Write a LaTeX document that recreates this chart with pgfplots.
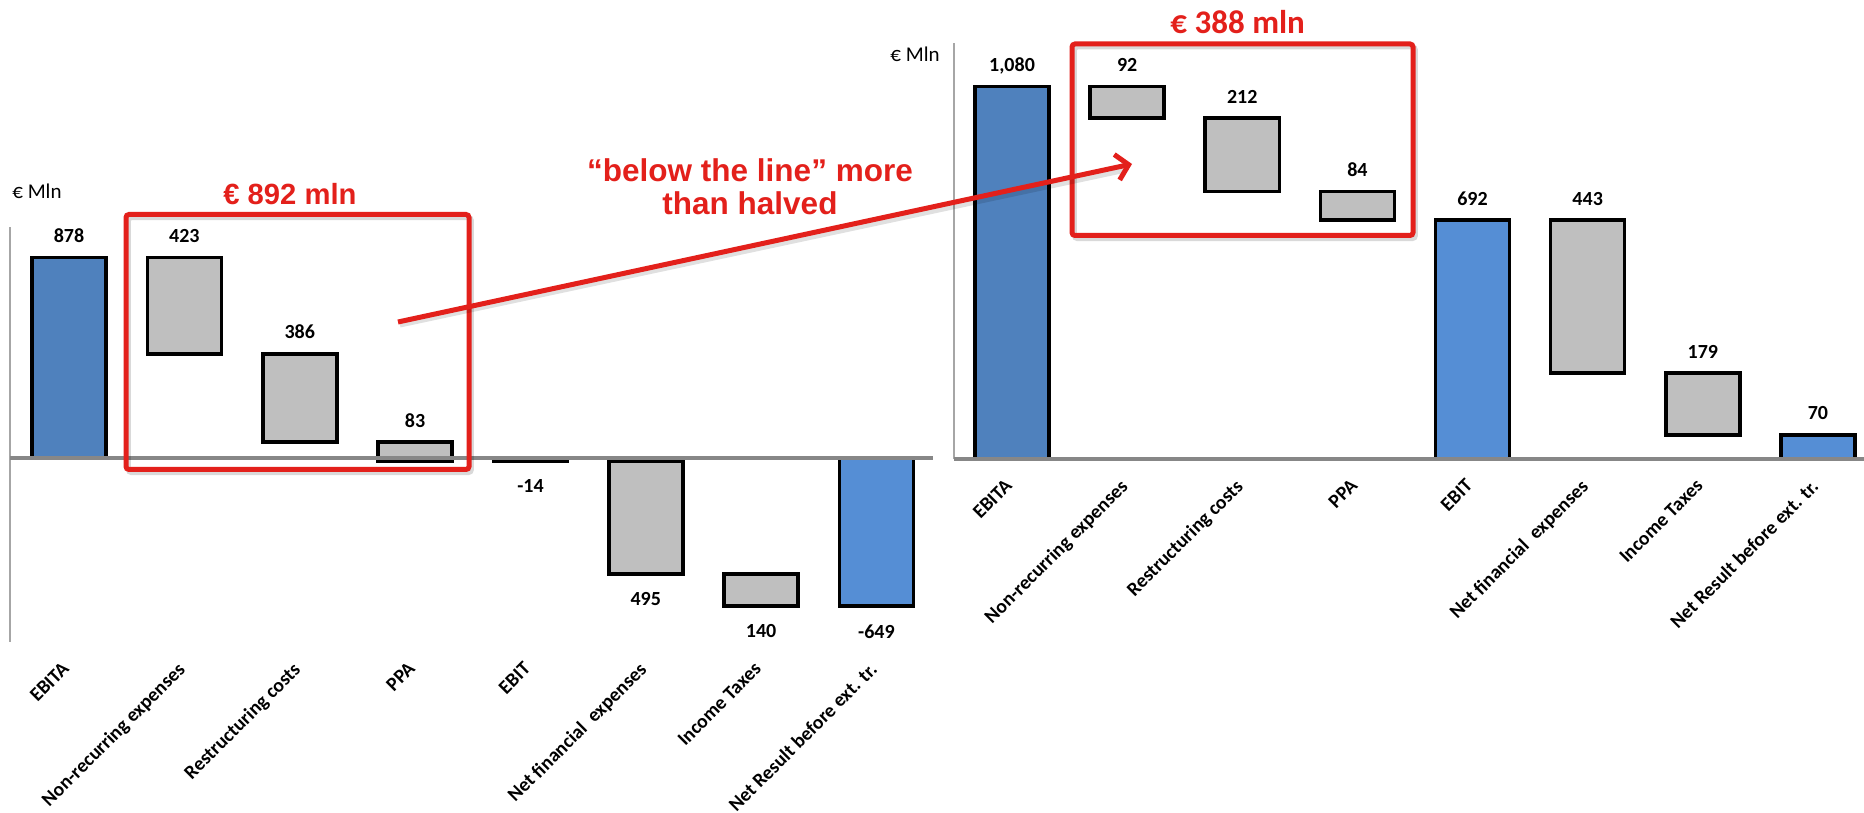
\documentclass[border=0pt]{standalone}
\usepackage{pgfplots}
\pgfplotsset{compat=1.18}
\usepackage{pgfplotstable}
\usepackage{fontspec}
\setmainfont{Carlito}
\newfontfamily\arialfont{Liberation Sans}
\usetikzlibrary{arrows.meta}

\definecolor{blueA}{HTML}{4F81BD}
\definecolor{blueB}{HTML}{558ED5}
\definecolor{barGray}{HTML}{BFBFBF}
\definecolor{zeroGray}{HTML}{878787}
\definecolor{axisGray}{HTML}{A6A6A6}
\definecolor{redA}{HTML}{E3201B}

% left waterfall: invisible base + deltas
\pgfplotstableread{
x base gray tA tB
0 0 0 878 0
1 878 -423 0 0
2 455 -386 0 0
3 69 -83 0 0
4 0 0 0 -14
5 -14 -495 0 0
6 -509 -140 0 0
7 0 0 0 -649
}\leftbars
\pgfplotstableread{
x y lab
0 878 878
1 878 423
2 455 386
3 69 83
}\leftabove
\pgfplotstableread{
x y lab
4 -14 -14
5 -509 495
6 -649 140
7 -649 -649
}\leftbelow
% right waterfall
\pgfplotstableread{
x base gray tA tB
0 0 0 1080 0
1 1080 -92 0 0
2 988 -212 0 0
3 776 -84 0 0
4 0 0 0 692
5 692 -443 0 0
6 249 -179 0 0
7 0 0 0 70
}\rightbars
\pgfplotstableread{
x y lab
0 1080 1,080
1 1080 92
2 988 212
3 776 84
4 692 692
5 692 443
6 249 179
7 70 70
}\rightabove

\pgfplotsset{
  wfbars/.style={scale only axis, anchor=south west, ybar stacked,
    stack negative=on previous, bar width=37pt,
    axis line style={draw=none}, tick style={draw=none}, ytick=\empty,
    xtick={0,...,7},
    xticklabels={EBITA, Non-recurring expenses, Restructuring costs, PPA, EBIT,
      Net financial~ expenses, Income Taxes, Net Result before ext. tr.},
    xticklabel style={font=\bfseries\fontsize{9.8}{11}\selectfont,
      xshift=-4pt, yshift=-9.3pt, rotate=45,
      anchor=north east, inner sep=0pt}},
  wfover/.style={scale only axis, anchor=south west, hide axis, clip=false},
  barline/.style={draw=black, line width=1.8pt},
  vabove/.style={draw=none, nodes near coords, point meta=explicit symbolic,
    nodes near coords style={font=\bfseries\fontsize{10}{12}\selectfont,
      inner sep=0pt, anchor=base, yshift=7.5pt}},
  vbelow/.style={draw=none, nodes near coords, point meta=explicit symbolic,
    nodes near coords style={font=\bfseries\fontsize{10}{12}\selectfont,
      inner sep=0pt, anchor=north, yshift=-9pt}},
}

\begin{document}
\begin{tikzpicture}
\path[use as bounding box] (0pt,0pt) rectangle (932pt,406.5pt);

% ---------- left chart ----------
\begin{axis}[wfbars, at={(5pt,85.5pt)}, width=461.5pt, height=207.5pt,
  xmin=-0.512, xmax=7.49, ymin=-806, ymax=1011]
\addplot[draw=none, fill=none] table[x=x, y=base] {\leftbars};
\addplot[barline, fill=barGray] table[x=x, y=gray] {\leftbars};
\addplot[barline, fill=blueA] table[x=x, y=tA] {\leftbars};
\addplot[barline, fill=blueB] table[x=x, y=tB] {\leftbars};
\end{axis}
\begin{axis}[wfover, at={(5pt,85.5pt)}, width=461.5pt, height=207.5pt,
  xmin=-0.512, xmax=7.49, ymin=-806, ymax=1011]
\addplot[draw=axisGray, line width=0.8pt] coordinates {(-0.512,-806) (-0.512,1011)};
\addplot[draw=zeroGray, line width=1.7pt] coordinates {(-0.512,0) (7.49,0)};
\addplot[vabove] table[x=x, y=y, meta=lab] {\leftabove};
\addplot[vbelow] table[x=x, y=y, meta=lab] {\leftbelow};
\end{axis}

% ---------- right chart ----------
\begin{axis}[wfbars, at={(477pt,177pt)}, width=455pt, height=208pt,
  xmin=-0.504, xmax=7.40, ymin=0, ymax=1206]
\addplot[draw=none, fill=none] table[x=x, y=base] {\rightbars};
\addplot[barline, fill=barGray] table[x=x, y=gray] {\rightbars};
\addplot[barline, fill=blueA] table[x=x, y=tA] {\rightbars};
\addplot[barline, fill=blueB] table[x=x, y=tB] {\rightbars};
\end{axis}
\begin{axis}[wfover, at={(477pt,177pt)}, width=455pt, height=208pt,
  xmin=-0.504, xmax=7.40, ymin=0, ymax=1206]
\addplot[draw=axisGray, line width=0.8pt] coordinates {(-0.504,0) (-0.504,1206)};
\addplot[draw=zeroGray, line width=1.7pt] coordinates {(-0.504,0) (7.40,0)};
\addplot[vabove] table[x=x, y=y, meta=lab] {\rightabove};
\end{axis}

% ---------- annotations ----------
\node[anchor=base west, inner sep=0pt, font=\fontsize{10.5}{12}\selectfont] at (6pt,307pt) {€ Mln};
\node[anchor=base west, inner sep=0pt, font=\fontsize{10.5}{12}\selectfont] at (445pt,375.5pt) {€ Mln};

\draw[black, opacity=0.15, line width=2.5pt, rounded corners=1.5pt] (64.2pt,170.2pt) rectangle (235.7pt,297.7pt);
\draw[black, opacity=0.15, line width=2.5pt, rounded corners=1.5pt] (537.2pt,287.2pt) rectangle (707.7pt,383pt);
\draw[redA, line width=2.5pt, rounded corners=1.5pt] (63pt,171.75pt) rectangle (234.5pt,299.25pt);
\draw[redA, line width=2.5pt, rounded corners=1.5pt] (536pt,288.75pt) rectangle (706.5pt,384.5pt);

\draw[black, opacity=0.12, line width=2.5pt] (200pt,244pt) -- (563pt,321.5pt);
\draw[redA, line width=2.5pt, -{Straight Barb[length=6pt,width=13pt]}] (199pt,245.5pt) -- (566pt,324.5pt);

\node[anchor=base west, inner sep=0pt, text=redA, font=\arialfont\bfseries\fontsize{14.6}{17}\selectfont] at (111.5pt,304pt) {€ 892 mln};
\node[anchor=base west, inner sep=0pt, text=redA, font=\bfseries\fontsize{16.5}{19}\selectfont] at (585pt,389.5pt) {€ 388 mln};
\node[anchor=base, inner sep=0pt, text=redA, font=\arialfont\bfseries\fontsize{15.75}{18}\selectfont] at (375pt,315.5pt) {“below the line” more};
\node[anchor=base, inner sep=0pt, text=redA, font=\arialfont\bfseries\fontsize{15.75}{18}\selectfont] at (375pt,299pt) {than halved};
\end{tikzpicture}
\end{document}
